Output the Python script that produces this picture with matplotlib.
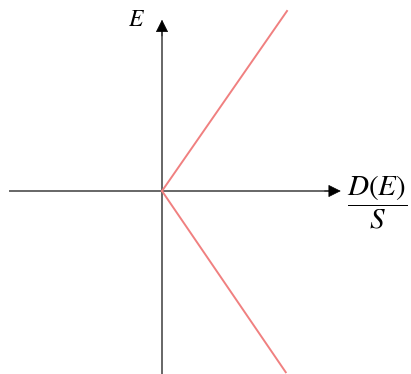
import matplotlib
matplotlib.use('Agg')
import matplotlib.pyplot as plt

plt.rcParams['mathtext.fontset'] = 'stix'

# end points of the two red branches, starting at the origin
upper_x = [0, 1.0]
upper_y = [0, 1.44]
lower_x = [0, 0.99]
lower_y = [0, -1.45]

fig = plt.figure(figsize=(4.11, 3.74), dpi=100)
ax = fig.add_axes([0, 0, 1, 1])
ax.set_xlim(-162 / 125, (411 - 162) / 125)
ax.set_ylim(-(374 - 191) / 125, 191 / 125)
ax.axis('off')

# axis lines in grey, arrow heads in black
ax.plot([-1.22, 1.35], [0, 0], color='#666666', lw=1.4)
ax.plot([0, 0], [-1.47, 1.29], color='#666666', lw=1.4)
ax.annotate('', xy=(1.43, 0), xytext=(1.30, 0),
            arrowprops=dict(arrowstyle='-|>', color='black', lw=0.5,
                            mutation_scale=20, shrinkA=0, shrinkB=0))
ax.annotate('', xy=(0, 1.37), xytext=(0, 1.24),
            arrowprops=dict(arrowstyle='-|>', color='black', lw=0.5,
                            mutation_scale=20, shrinkA=0, shrinkB=0))

ax.plot(upper_x, upper_y, color='#f08080', lw=1.4)
ax.plot(lower_x, lower_y, color='#f08080', lw=1.4)

ax.text(-0.2, 1.38, '$E$', fontsize=17, ha='center', va='center')
ax.text(1.72, -0.09, r'$\dfrac{D(E)}{S}$', fontsize=21, ha='center', va='center')

fig.savefig('out.png', dpi=100)
